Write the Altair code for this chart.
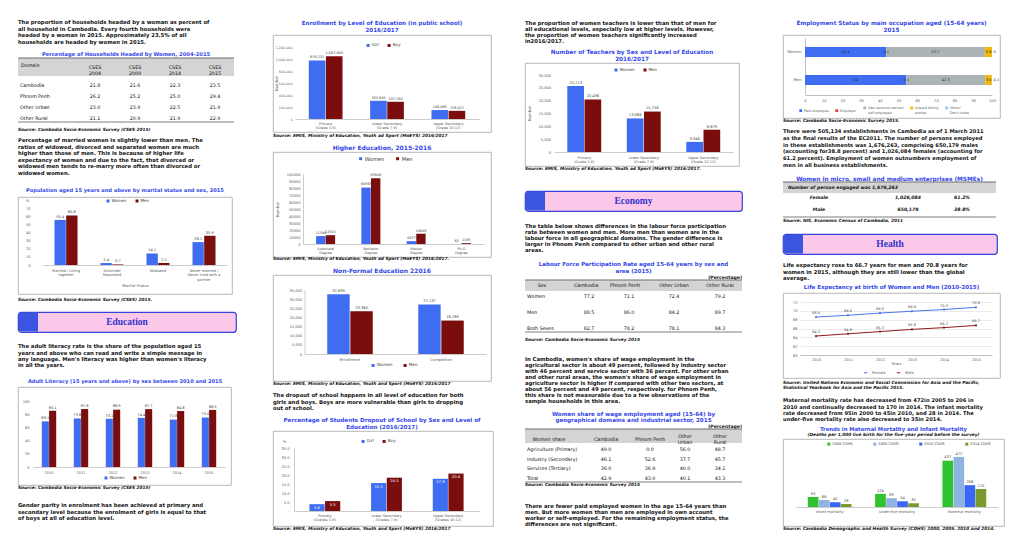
import altair as alt
import pandas as pd

FONT = "DejaVu Sans"
BLUE = "#3e6df2"
DRED = "#7b0d0d"
TBLUE = "#3446ea"
AX = "#595959"
GRID = "#bfbfbf"
TXT = "#111111"

# ---------------- paragraphs & titles ----------------
para_households = [
    "The proportion of households headed by a woman as percent of",
    "all household in Cambodia. Every fourth households were",
    "headed by a woman in 2015. Approximately 23.5% of all",
    "households are headed by women in 2015.",
]
para_married = [
    "Percentage of married women is slightly lower than men. The",
    "ratios of widowed, divorced and separated women are much",
    "higher than those of men. This is because of higher life",
    "expectancy of women and due to the fact, that divorced or",
    "widowed men tends to re-marry more often than divorced or",
    "widowed women.",
]
para_literacy = [
    "The adult literacy rate is the share of the population aged 15",
    "years and above who can read and write a simple message in",
    "any language. Men's literacy was higher than women's literacy",
    "in all the years.",
]
para_parity = [
    "Gender parity in enrolment has been achieved at primary and",
    "secondary level because the enrolment of girls is equal to that",
    "of boys at all of education level.",
]
para_dropout = [
    "The dropout of school happens in all level of education for both",
    "girls and boys. Boys are more vulnerable than girls to dropping",
    "out of school.",
]
para_teachers = [
    "The proportion of women teachers is lower than that of men for",
    "all educational levels, especially low at higher levels. However,",
    "the proportion of women teachers significantly increased",
    "in2016/2017.",
]
para_labour = [
    "The table below shows differences in the labour force participation",
    "rate between women and men. More men than women are in the",
    "labour force in all geographical domains. The gender difference is",
    "larger in Phnom Penh compared to other urban and other rural",
    "areas.",
]
para_wage = [
    "In Cambodia, women's share of wage employment in the",
    "agricultural sector is about 49 percent, followed by industry sector",
    "with 46 percent and service sector with 36 percent. For other urban",
    "and other rural areas, the women's share of wage employment in",
    "agriculture sector is higher if compared with other two sectors, at",
    "about 56 percent and 49 percent, respectively. for Phnom Penh,",
    "this share is not measurable due to a few observations of the",
    "sample households in this area.",
]
para_paid = [
    "There are fewer paid employed women in the age 15-64 years than",
    "men. But more women than men are employed in own account",
    "worker or self-employed. For the remaining employment status, the",
    "differences are not significant.",
]
para_estab = [
    "There were 505,134 establishments in Cambodia as of 1 March 2011",
    "as the final results of the EC2011. The number of persons employed",
    "in these establishments was 1,676,263, comprising 650,179 males",
    "(accounting for38.8 percent) and 1,026,084 females (accounting for",
    "61.2 percent). Employment of women outnumbers employment of",
    "men in all business establishments.",
]
para_life = [
    "Life expectancy rose to 66.7 years for men and 70.8 years for",
    "women in 2015, although they are still lower than the global",
    "average.",
]
para_mort = [
    "Maternal mortality rate has decreased from 472in 2005 to 206 in",
    "2010 and continually decreased to 170 in 2014. The infant mortality",
    "rate decreased from 95in 2000 to 45in 2010, and 28 in 2014. The",
    "under-five mortality rate also decreased to 35in 2014.",
]

title_hh = ["Percentage of Households Headed  by Women, 2004-2015"]
title_marital = ["Population aged 15 years and above by marital status and sex, 2015"]
title_lit = ["Adult Literacy (15 years and above) by sex between 2010 and 2015"]
title_enr = ["Enrollment by Level of Education (in public school)", "2016/2017"]
title_he = ["Higher Education, 2015-2016"]
title_nf = ["Non-Formal Education 22016"]
title_drop = ["Percentage of Students Dropout of School by Sex and Level of", "Education (2016/2017)"]
title_tch = ["Number of Teachers by Sex and Level of Education", "2016/2017"]
title_lf = ["Labour Force Participation Rate aged 15-64 years by sex and", "area (2015)"]
title_ws = ["Women share of wage employment aged (15-64) by", "geographical domains and industrial sector, 2015"]
title_emp = ["Employment Status by main occupation aged (15-64 years)", "2015"]
title_msme = ["Women in micro, small and medium enterprises (MSMEs)"]
title_life = ["Life Expectancy at birth of Women and Men (2010-2015)"]
title_mort = ["Trends in Maternal Mortality and Infant Mortality"]
subtitle_mort = ["(Deaths per 1,000 live birth for the five-year period before the survey)"]
pct_note = ["(Percentage)"]

src_hh = ["Source: Cambodia Socio-Economic Survey (CSES 2015)"]
src_marital = ["Source: Cambodia Socio-Economic Survey (CSES) 2015."]
src_lit = ["Source: Cambodia Socio-Economic Survey (CSES 2015)"]
src_emis1 = ["Source:  EMIS, Ministry of Education, Youth ad Sport (MoEYS) 2016/2017"]
src_emis2 = ["Source:  EMIS, Ministry of Education, Youth ad Sport (MoEYS) 2016/2017."]
src_emis3 = ["Source:  EMIS, Ministry of Education, Youth and Sport (MoEYS) 2016/2017"]
src_emis4 = ["Source:  EMIS, Ministry of Education, Youth and Sport (MoEYS) 2016/2017"]
src_emis5 = ["Source:  EMIS, Ministry of Education, Youth ad Sport (MoEYS) 2016/2017."]
src_cses15 = ["Source: Cambodia Socio-Economic Survey 2015"]
src_emp = ["Source: Cambodia Socio-Economic Survey 2015."]
src_msme = ["Source: NIS, Economic Census of Cambodia, 2011"]
src_life = ["Source: United Nations Economic and Social Commission for Asia and the Pacific,",
            "Statistical Yearbook for Asia and the Pacific 2015."]
src_mort = ["Source: Cambodia Demographic and Health Survey (CDHS) 2000, 2005, 2010 and 2014."]

# ---------------- data ----------------
hh_cols = ["CSES\n2004", "CSES\n2009", "CSES\n2014", "CSES\n2015"]
hh_rows = ["Cambodia", "Phnom Penh", "Other Urban", "Other Rural"]
hh_vals = [[21.8, 21.6, 22.3, 23.5], [26.2, 25.2, 25.0, 29.4],
           [23.0, 23.9, 22.5, 21.9], [21.1, 20.9, 21.9, 22.9]]

sex_names = ["Women", "Men"]
kid_names = ["Girl", "Boy"]

marital_cats = ["Married / Living\ntogether", "Divorced/\nSeparated", "Widowed",
                "Never married /\nNever lived with a\npartner"]
marital_women = [55.4, 2.4, 14.1, 28.1]
marital_men = [60.8, 0.7, 2.5, 35.9]
marital_ticks = [0, 10, 20, 30, 40, 50, 60, 70]

lit_years = ["2010", "2011", "2012", "2013", "2014", "2015"]
lit_women = [69.1, 73.6, 73.1, 74.4, 71.8, 75.0]
lit_men = [85.1, 87.8, 86.9, 87.7, 84.8, 86.5]
lit_ticks = [0, 20, 40, 60, 80, 100]

enr_cats = ["Primary\n(Grade 1-6)", "Lower Secondary\n(Grade 7-9)", "Upper Secondary\n(Grade 10-12)"]
enr_girl = [976231, 303645, 149465]
enr_boy = [1047800, 287384, 136022]
enr_ticks = [0, 200000, 400000, 600000, 800000, 1000000, 1200000]

he_cats = ["Associate\nDegree", "Bachelor\nDegree", "Master\nDegree", "Ph.D\nDegree"]
he_women = [11384, 80593, 4077, 63]
he_men = [12582, 93949, 14646, 1185]
he_ticks = [0, 10000, 20000, 30000, 40000, 50000, 60000, 70000, 80000, 90000, 100000]

nf_cats = ["Enrollment", "Completion"]
nf_women = [32639, 27137]
nf_men = [23360, 18289]
nf_ticks = [0, 5000, 10000, 15000, 20000, 25000, 30000, 35000]

drop_cats = ["Primary\n(Grades 1-6)", "Lower Secondary\n(Grades 7-9)", "Upper Secondary\n(Grades 10-12)"]
drop_girl = [3.8, 15.5, 17.9]
drop_boy = [5.5, 18.5, 20.8]
drop_ticks = [0, 5, 10, 15, 20, 25, 30, 35]

tch_cats = ["Primary\n(Grade 1-6)", "Lower Secondary\n(Grade 7-9)", "Upper Secondary\n(Grade 10-12)"]
tch_women = [25713, 13086, 3946]
tch_men = [20436, 15756, 8679]
tch_ticks = [0, 5000, 10000, 15000, 20000, 25000, 30000]

lf_cols = ["Cambodia", "Phnom Penh", "Other Urban", "Other Rural"]
lf_rows = ["Women", "Men", "Both Sexes"]
lf_vals = [[77.2, 71.1, 72.4, 79.2], [88.5, 86.0, 84.2, 89.7], [82.7, 78.2, 78.1, 84.3]]

ws_cols = ["Cambodia", "Phnom Penh", "Other\nUrban", "Other\nRural"]
ws_rows = ["Agriculture (Primary)", "Industry (Secondary)", "Services (Tertiary)", "Total"]
ws_vals = [[49.0, 0.0, 56.0, 48.7], [46.1, 52.6, 37.7, 45.7],
           [36.0, 36.9, 40.0, 34.1], [42.9, 43.0, 40.1, 43.3]]

emp_rows = ["Women", "Men"]
emp_cats = ["Paid employee", "Employer", "Own account worker/\nself-employed",
            "Unpaid family\nworker", "Other/\nDon't know"]
emp_women = [43.4, 0.1, 52.7, 3.8, 0.0]
emp_men = [54.0, 0.1, 42.3, 3.5, 0.1]
emp_ticks = [0, 10, 20, 30, 40, 50, 60, 70, 80, 90, 100]
emp_colors = ["#3e6df2", "#e8423a", "#aab4b4", "#f2b90c", "#9fc3e8"]

msme_head = "Number of person engaged was 1,676,263"
msme_rows = ["Female", "Male"]
msme_num = ["1,026,084", "650,179"]
msme_pct = ["61.2%", "38.8%"]

life_years = ["2010", "2011", "2012", "2013", "2014", "2015"]
life_female = [68.6, 69.0, 69.5, 69.9, 70.3, 70.8]
life_male = [64.3, 64.8, 65.3, 65.8, 66.2, 66.7]
life_ticks = [60, 62, 64, 66, 68, 70, 72]

mort_cats = ["Infant mortality", "Under-five mortality", "Maternal mortality"]
mort_series = ["2000 CDHS", "2005 CDHS", "2010 CDHS", "2014 CDHS"]
mort_vals = [[95, 124, 437], [66, 83, 472], [45, 54, 206], [28, 35, 170]]
mort_colors = ["#2fc42f", "#8fb3e0", "#3a66f5", "#7b9a2e"]

BOX = alt.ViewBackground(stroke="#a6a6a6", strokeWidth=0.8, fill="white")
GUARD = 6


# ---------------- helpers ----------------
def spacer(h, w=1):
    return alt.Chart(pd.DataFrame({"t": [""]})).mark_text().encode(text="t:N").properties(width=w, height=h)


def guard_spacer(w):
    # invisible element that fixes each column's left extent, plus the column width
    return alt.Chart(pd.DataFrame({"k": [0]})).mark_rect(opacity=0).encode(
        x=alt.value(-GUARD), x2=alt.value(-GUARD + 1), y=alt.value(0), y2=alt.value(1)
    ).properties(width=w, height=1)


def tblock(lines, W, lh, size=5.3, color=TXT, weight="bold", align="left", style="normal"):
    n = len(lines)
    H = n * lh
    df = pd.DataFrame({"i": list(range(n)), "t": lines})
    xpos = {"left": 0, "center": W / 2, "right": W}[align]
    ch = alt.Chart(df).mark_text(align=align, baseline="middle", fontSize=size, fontWeight=weight,
                                 fontStyle=style, color=color, font=FONT).encode(
        x=alt.value(xpos),
        y=alt.Y("i:Q", axis=None, scale=alt.Scale(domain=[-0.5, n - 0.5], range=[0, H], nice=False, zero=False)),
        text="t:N",
    ).properties(width=W, height=H)
    return ch, H


def src(lines, W, lh=4.5):
    return tblock(lines, W, lh, size=4.3, style="italic")


def title(lines, W, lh, size=5.5):
    return tblock(lines, W, lh, size=size, color=TBLUE, align="center")


def banner(text, W, H=20):
    base = alt.Chart(pd.DataFrame({"t": [text]}))
    stripe = base.mark_rect(color="#3b55e0", cornerRadiusTopLeft=3, cornerRadiusBottomLeft=3).encode(
        x=alt.value(0.5), x2=alt.value(20), y=alt.value(0.5), y2=alt.value(H - 0.5))
    label = base.mark_text(font="Liberation Serif", fontSize=9.5, fontWeight="bold", color="#3333cc").encode(
        x=alt.value(W / 2), y=alt.value(H / 2), text="t:N")
    ch = alt.layer(stripe, label).properties(
        width=W, height=H,
        view=alt.ViewBackground(fill="#fbc8ea", stroke="#3443d9", strokeWidth=1.2, cornerRadius=3))
    return ch, H


def table_chart(W, H, band, header, labels, values, label_x, col_x, row_y0, row_dy, bottom,
                fs=4.8, weight="normal", style="normal", label_align="left", hdr_weight="normal",
                hdr_style="normal", fmt=True):
    one = pd.DataFrame({"k": [0]})
    layers = [
        alt.Chart(one).mark_rect(color="#d4d4d4").encode(
            x=alt.value(0), x2=alt.value(W), y=alt.value(band[0]), y2=alt.value(band[1])),
        alt.Chart(one).mark_rule(color="#6f6f6f", strokeWidth=1.2).encode(
            x=alt.value(0), x2=alt.value(W), y=alt.value(band[0])),
        alt.Chart(one).mark_rule(color="#6f6f6f", strokeWidth=0.9).encode(
            x=alt.value(0), x2=alt.value(W), y=alt.value(bottom)),
    ]
    for hx, hy, ht, ha in header:
        layers.append(alt.Chart(pd.DataFrame({"t": [ht]})).mark_text(
            align=ha, baseline="middle", fontSize=fs, fontWeight=hdr_weight, fontStyle=hdr_style,
            lineBreak="\n", lineHeight=fs + 1.2, color=TXT).encode(
            x=alt.value(hx), y=alt.value(hy), text="t:N"))
    n = len(labels)
    ysc = alt.Scale(domain=[0, 1], range=[row_y0, row_y0 + row_dy], nice=False, zero=False)
    layers.append(alt.Chart(pd.DataFrame({"i": list(range(n)), "t": labels})).mark_text(
        align=label_align, baseline="middle", fontSize=fs, fontWeight=weight, fontStyle=style, color=TXT).encode(
        x=alt.value(label_x), y=alt.Y("i:Q", scale=ysc, axis=None), text="t:N"))
    for j, cx in enumerate(col_x):
        col = [values[i][j] for i in range(n)]
        if fmt:
            col = [f"{v:.1f}" for v in col]
        layers.append(alt.Chart(pd.DataFrame({"i": list(range(n)), "v": col})).mark_text(
            align="center", baseline="middle", fontSize=fs, fontWeight=weight, fontStyle=style, color=TXT).encode(
            x=alt.value(cx), y=alt.Y("i:Q", scale=ysc, axis=None), text="v:N"))
    return alt.layer(*layers).properties(width=W, height=H), H


def grouped(cats, names, series, colors, W, H, xr, yr, ydom, ticks=None, tick_fmt="d",
            lab_fmt="d", pin=0.45, legend=None, ytitle=None, ydomain=False, ylab_pad=3,
            xlab_pad=2, xtitle=None, inside=False, lab_size=3.6, tick_expr=None,
            show_y=True, xlab_size=3.5, ylab_size=3.6):
    rows = []
    for nm, vals in zip(names, series):
        for c, v in zip(cats, vals):
            rows.append({"cat": c, "ser": nm, "val": v})
    df = pd.DataFrame(rows)
    xkw = dict(offset=-(H - yr[0]), labelAngle=0, labelExpr="split(datum.label, '\\n')",
               labelFontSize=xlab_size, labelColor=AX, labelLineHeight=xlab_size + 1.3,
               labelPadding=xlab_pad, domainColor=GRID, domainWidth=0.8, ticks=False, grid=False)
    if xtitle:
        xkw.update(title=xtitle, titleFontSize=3.8, titleFontWeight="normal", titleColor=AX, titlePadding=2)
    else:
        xkw.update(title=None)
    x = alt.X("cat:N", sort=cats,
              scale=alt.Scale(range=list(xr), paddingInner=pin, paddingOuter=pin / 2),
              axis=alt.Axis(**xkw))
    if show_y:
        ykw = dict(offset=-xr[0], values=ticks, format=tick_fmt, labelFontSize=ylab_size, labelColor=AX,
                   labelPadding=ylab_pad, ticks=False, grid=False, domain=ydomain, domainColor=GRID,
                   domainWidth=0.8, title=None)
        if tick_expr:
            ykw["labelExpr"] = tick_expr
        if ytitle:
            t, tx, ty, ang = ytitle
            ykw.update(title=t, titleFontSize=3.8, titleFontWeight="normal", titleColor=AX,
                       titleX=tx - xr[0], titleY=ty, titleAngle=ang)
        yaxis = alt.Axis(**ykw)
    else:
        yaxis = None
    y = alt.Y("val:Q", scale=alt.Scale(domain=list(ydom), range=list(yr), nice=False, zero=False), axis=yaxis)
    xo = alt.XOffset("ser:N", sort=names, scale=alt.Scale(paddingInner=0.03))
    if legend:
        lx, ly, lfs, cpad = legend
        leg = alt.Legend(orient="none", legendX=lx, legendY=ly, direction="horizontal", title=None,
                         symbolType="square", symbolSize=9, labelFontSize=lfs, labelColor="#404040",
                         columnPadding=cpad, symbolStrokeWidth=0, labelOffset=1.5, padding=0)
    else:
        leg = None
    color = alt.Color("ser:N", sort=names, scale=alt.Scale(domain=names, range=colors), legend=leg)
    bars = alt.Chart(df).mark_bar().encode(x=x, xOffset=xo, y=y, color=color)
    if inside:
        txt = alt.Chart(df).mark_text(baseline="top", dy=1.5, fontSize=lab_size, color="#f2f2f2")
    else:
        txt = alt.Chart(df).mark_text(baseline="bottom", dy=-1.2, fontSize=lab_size, color="#404040")
    txt = txt.encode(x=x, xOffset=xo, y=y, text=alt.Text("val:Q", format=lab_fmt))
    return alt.layer(bars, txt).properties(width=W, height=H, view=BOX), H


def emp_chart(W=217, H=83):
    rows = []
    for r, vals in zip(emp_rows, [emp_women, emp_men]):
        for k, (c, v) in enumerate(zip(emp_cats, vals)):
            rows.append({"row": r, "cat": c, "val": v, "k": k})
    df = pd.DataFrame(rows)
    xsc = alt.Scale(domain=[0, 100], range=[22, 209], nice=False, zero=False)
    xax = alt.Axis(offset=-(H - 60), values=emp_ticks, labelFontSize=3.6, labelColor=AX, domainColor=GRID,
                   ticks=False, grid=False, labelFlush=False, labelPadding=3, title=None)
    y = alt.Y("row:N", sort=emp_rows,
              scale=alt.Scale(range=[3, 59], paddingInner=0.64, paddingOuter=0.32),
              axis=alt.Axis(offset=-22, labelFontSize=3.8, labelColor=AX, domainColor=GRID, ticks=False,
                            labelPadding=4, title=None))
    color = alt.Color("cat:N", sort=emp_cats, scale=alt.Scale(domain=emp_cats, range=emp_colors),
                      legend=alt.Legend(orient="none", legendX=16, legendY=71, direction="horizontal",
                                        columns=5, title=None, symbolType="square", symbolSize=8,
                                        labelFontSize=3.4, labelColor=AX,
                                        labelExpr="split(datum.label, '\\n')", columnPadding=6,
                                        symbolStrokeWidth=0, labelOffset=1.5, padding=0))
    bars = alt.Chart(df).mark_bar().encode(
        x=alt.X("val:Q", stack="zero", scale=xsc, axis=xax), y=y, color=color, order=alt.Order("k:Q"))
    stacked = alt.Chart(df).transform_stack(
        stack="val", groupby=["row"], as_=["v0", "v1"], sort=[alt.SortField("k", order="ascending")]
    ).transform_calculate(mid="(datum.v0 + datum.v1) / 2")
    labels = stacked.transform_filter("datum.k < 4").mark_text(fontSize=3.6, color="#262626").encode(
        x=alt.X("mid:Q", scale=xsc, axis=xax), y=y, text=alt.Text("val:Q", format=".3~g"))
    last = stacked.transform_filter("datum.k == 4").mark_text(
        fontSize=3.6, color="#262626", align="left", dx=1.5).encode(
        x=alt.X("v1:Q", scale=xsc, axis=xax), y=y, text=alt.Text("val:Q", format=".3~g"))
    return alt.layer(bars, labels, last).properties(width=W, height=H, view=BOX), H


def life_chart(W=217, H=85):
    rows = [{"yr": a, "sex": "Female", "val": v} for a, v in zip(life_years, life_female)]
    rows += [{"yr": a, "sex": "Male", "val": v} for a, v in zip(life_years, life_male)]
    df = pd.DataFrame(rows)
    x = alt.X("yr:O", sort=life_years, scale=alt.Scale(type="point", range=[17, 209], padding=0.5),
              axis=alt.Axis(offset=-(H - 62), labelAngle=0, labelFontSize=3.6, labelColor=AX, domainColor=GRID,
                            ticks=False, title="Years", titleFontSize=3.8, titleFontWeight="normal",
                            titleColor=AX, titlePadding=1, labelPadding=2))
    y = alt.Y("val:Q", scale=alt.Scale(domain=[60, 72], range=[62, 9], nice=False, zero=False),
              axis=alt.Axis(offset=-17, values=life_ticks, grid=True, gridColor="#dcdcdc", gridWidth=0.6,
                            domain=False, ticks=False, labelFontSize=3.6, labelColor=AX, labelPadding=3,
                            title=None))
    color = alt.Color("sex:N", sort=["Female", "Male"],
                      scale=alt.Scale(domain=["Female", "Male"], range=["#4d74ea", "#8e1b1b"]),
                      legend=alt.Legend(orient="none", legendX=80, legendY=77, direction="horizontal", title=None,
                                        labelFontSize=3.8, symbolSize=12, symbolStrokeWidth=1, labelColor=AX,
                                        columnPadding=8, padding=0, symbolType="stroke"))
    line = alt.Chart(df).mark_line(strokeWidth=1, point=alt.OverlayMarkDef(size=5, filled=True)).encode(
        x=x, y=y, color=color)
    txt = alt.Chart(df).mark_text(dy=-4, fontSize=3.5, color="#404040").encode(
        x=x, y=y, text=alt.Text("val:Q", format=".1f"))
    return alt.layer(line, txt).properties(width=W, height=H, view=BOX), H


def column(items, colw, y_start=8):
    out = []
    cur = y_start
    for top, (ch, h) in items:
        gap = top - cur
        if gap > 0.05:
            out.append(spacer(gap))
            cur = top
        out.append(ch)
        cur += h
    out.append(guard_spacer(colw))
    return alt.vconcat(*out, spacing=0, bounds="flush").resolve_scale(
        color="independent", xOffset="independent").resolve_legend(color="independent")


# ---------------- column 1 ----------------
hh_table = table_chart(
    216, 66, (0, 18),
    [(3, 8, "Domain", "left")] + [(cx, 9.5, h, "center") for cx, h in zip([77, 117, 157, 197], hh_cols)],
    hh_rows, hh_vals, 2, [77, 117, 157, 197], 28, 11, 64)

marital = grouped(marital_cats, sex_names, [marital_women, marital_men], [BLUE, DRED], 214, 97,
                  (25, 209), (68, 11), (0, 70), ticks=marital_ticks, lab_fmt=".1f", pin=0.5,
                  legend=(88, 2, 4.0, 8), ytitle=("%", 9, 5, 0), ylab_pad=13, xlab_pad=3,
                  xtitle="Marital Status", xlab_size=3.6)

literacy = grouped(lit_years, sex_names, [lit_women, lit_men], [BLUE, DRED], 213, 98,
                   (15, 207), (80, 14), (0, 100), ticks=lit_ticks, lab_fmt=".1f", pin=0.55,
                   legend=(86, 89, 4.0, 8), ylab_pad=4, xlab_pad=3)

col1 = column([
    (18, tblock(para_households, 214, 6.5)),
    (50, title(title_hh, 216, 6, 5.2)),
    (57, hh_table),
    (125.5, src(src_hh, 214, 5)),
    (135.25, tblock(para_married, 214, 6.5)),
    (185, title(title_marital, 214, 6, 5.1)),
    (195, marital),
    (294.2, src(src_marital, 214, 5)),
    (309, banner("Education", 218)),
    (339.5, tblock(para_literacy, 214, 6.4)),
    (374, title(title_lit, 214, 6, 5.1)),
    (383, literacy),
    (481, src(src_lit, 214, 5)),
    (497.75, tblock(para_parity, 214, 6.5)),
], 255 - GUARD)

# ---------------- column 2 ----------------
enrol = grouped(enr_cats, kid_names, [enr_girl, enr_boy], [BLUE, DRED], 218, 97,
                (22, 206), (84, 12), (0, 1200000), ticks=enr_ticks, tick_fmt=",d", lab_fmt=",d",
                pin=0.45, legend=(93, 8, 4.2, 8), ytitle=("Number", 5, 48, 270), ylab_pad=3,
                xlab_pad=2, lab_size=3.4, ylab_size=3.3)

higher = grouped(he_cats, sex_names, [he_women, he_men], [BLUE, DRED], 218, 105,
                 (30, 211), (92, 22), (0, 100000), ticks=he_ticks, tick_fmt="d", lab_fmt="d",
                 pin=0.58, legend=(85, 4, 5.2, 10), ytitle=("Number", 6, 57, 270), ydomain=True,
                 ylab_pad=3, xlab_pad=2, lab_size=3.4)

nonformal = grouped(nf_cats, sex_names, [nf_women, nf_men], [BLUE, DRED], 218, 106,
                    (31.5, 213.5), (79, 15), (0, 35000), ticks=nf_ticks, tick_fmt=",d", lab_fmt=",d",
                    pin=0.5, legend=(98, 88, 4.2, 10), ydomain=True, ylab_pad=3, xlab_pad=3,
                    xlab_size=3.8)

dropout = grouped(drop_cats, kid_names, [drop_girl, drop_boy], [BLUE, DRED], 220, 95,
                  (21, 206), (80, 17), (0, 35), ticks=drop_ticks, tick_fmt=".1f", lab_fmt=".1f",
                  pin=0.5, legend=(88, 8, 4.2, 8), ytitle=("%", 11, 12, 0), ydomain=True, ylab_pad=5,
                  xlab_pad=2, inside=True, lab_size=3.8,
                  tick_expr="datum.value == 0 ? '-' : format(datum.value, '.1f')")

col2 = column([
    (18.4, title(title_enr, 218, 6.6, 5.6)),
    (32, enrol),
    (129.5, src(src_emis1, 218, 5)),
    (140.5, title(title_he, 218, 7, 6.0)),
    (148, higher),
    (253, src(src_emis2, 218, 4)),
    (262.5, title(title_nf, 218, 7, 6.0)),
    (270, nonformal),
    (376.5, src(src_emis3, 218, 4)),
    (385.75, tblock(para_dropout, 218, 6.5)),
    (408.5, title(title_drop, 218, 7, 5.6)),
    (423, dropout),
    (519, src(src_emis4, 218, 4)),
], 252 - GUARD)

# ---------------- column 3 ----------------
teachers = grouped(tch_cats, sex_names, [tch_women, tch_men], [BLUE, DRED], 214, 103,
                   (29.5, 208), (89, 12), (0, 30000), ticks=tch_ticks, tick_fmt=",d", lab_fmt=",d",
                   pin=0.43, legend=(89, 5, 4.0, 8), ytitle=("Number", 6, 50, 270), ylab_pad=4,
                   xlab_pad=3, lab_size=3.6)

lf_table = table_chart(
    217, 54, (0, 11),
    [(17, 5.5, "Sex", "center")] + [(cx, 5.5, h, "center") for cx, h in zip([61, 100, 149, 195], lf_cols)],
    lf_rows, lf_vals, 2, [64, 104, 149, 195], 17, 16, 52)

ws_table = table_chart(
    217, 54, (0, 14),
    [(24, 10.5, "Women share", "center")] +
    [(cx, 8 if "\n" in h else 10.5, h, "center") for cx, h in zip([81, 125, 160, 195], ws_cols)],
    ws_rows, ws_vals, 2, [81, 125, 160, 195], 21, 9.7, 53)

col3 = column([
    (18.6, tblock(para_teachers, 216, 6.1)),
    (46.6, title(title_tch, 214, 6.7, 5.7)),
    (60, teachers),
    (163.7, src(src_emis5, 216, 4)),
    (187, banner("Economy", 217)),
    (218.65, tblock(para_labour, 216, 6.1)),
    (255.6, title(title_lf, 217, 6.7, 5.5)),
    (270, tblock(pct_note, 217, 4, size=4.6, align="right")),
    (274, lf_table),
    (330.5, src(src_cses15, 216, 5)),
    (349, tblock(para_wage, 216, 6)),
    (403.8, title(title_ws, 217, 6.3, 5.6)),
    (417, tblock(pct_note, 217, 4, size=4.6, align="right")),
    (421, ws_table),
    (475, src(src_cses15, 216, 3.5)),
    (494, tblock(para_paid, 216, 6.1)),
], 258 - GUARD)

# ---------------- column 4 ----------------
employment = emp_chart()

msme_table = table_chart(
    213, 36, (0, 11), [(5, 5.5, msme_head, "left")],
    msme_rows, [[a, b] for a, b in zip(msme_num, msme_pct)], 36, [125, 179], 16, 12, 35,
    fs=4.6, weight="bold", style="italic", label_align="center", hdr_weight="bold", hdr_style="italic",
    fmt=False)

mortality = grouped(mort_cats, mort_series, mort_vals, mort_colors, 221, 87,
                    (13, 215), (68, 15), (0, 500), lab_fmt="d", pin=0.35,
                    legend=(44, 3, 3.6, 20), show_y=False, xlab_pad=2, xlab_size=3.6, lab_size=3.6)

col4 = column([
    (18.4, title(title_emp, 217, 6.6, 5.7)),
    (32, employment),
    (116, src(src_emp, 217, 4)),
    (125, tblock(para_estab, 217, 6.67, size=5.2)),
    (172, title(title_msme, 213, 6, 5.8)),
    (178, msme_table),
    (214.2, src(src_msme, 217, 3)),
    (229, banner("Health", 214)),
    (256.75, tblock(para_life, 217, 6.5)),
    (278, title(title_life, 217, 6, 5.5)),
    (287, life_chart()),
    (374.75, src(src_life, 217, 4.5)),
    (390.2, tblock(para_mort, 217, 6.35, size=5.2)),
    (418.25, title(title_mort, 221, 5.5, 5.3)),
    (424.75, tblock(subtitle_mort, 221, 4.5, size=4.3, style="italic", align="center")),
    (430, mortality),
    (517.5, src(src_mort, 221, 4)),
], 217)

chart = alt.hconcat(col1, col2, col3, col4, spacing=0).resolve_scale(
    color="independent", xOffset="independent").resolve_legend(color="independent").properties(
    padding={"left": 10 - GUARD, "top": 0, "right": 0, "bottom": 0}, background="white"
).configure(font=FONT).configure_view(strokeWidth=0)

chart.save("out.html", embed_options={"renderer": "svg", "actions": False})
